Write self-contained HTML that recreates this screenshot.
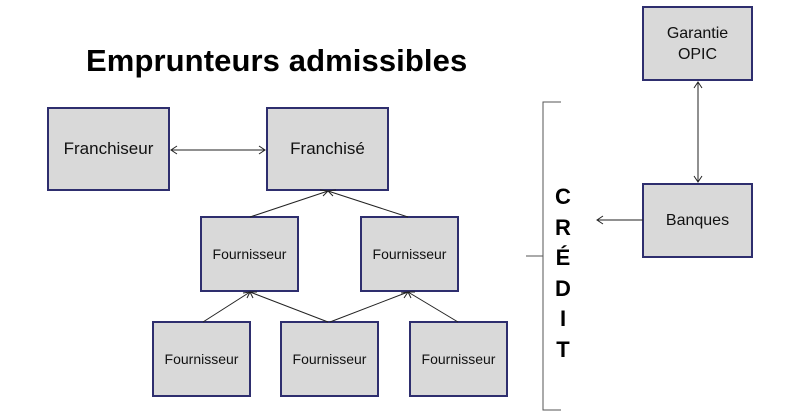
<!DOCTYPE html>
<html><head><meta charset="utf-8"><style>
body{margin:0;background:#fff;width:797px;height:417px;overflow:hidden;position:relative;font-family:"Liberation Sans",Arial,sans-serif}
.b{position:absolute;box-sizing:border-box;background:#d9d9d9;border:2px solid #2e2e6e;display:flex;align-items:center;justify-content:center;text-align:center;color:#111}
.t{position:absolute;font-weight:bold}
</style></head><body>
<div class="t" style="left:86px;top:43px;font-size:31px;letter-spacing:0.1px">Emprunteurs admissibles</div>
<div class="b" style="left:47px;top:107px;width:123px;height:84px;font-size:17px">Franchiseur</div>
<div class="b" style="left:266px;top:107px;width:123px;height:84px;font-size:17px">Franchisé</div>
<div class="b" style="left:200px;top:216px;width:99px;height:76px;font-size:14px">Fournisseur</div>
<div class="b" style="left:360px;top:216px;width:99px;height:76px;font-size:14px">Fournisseur</div>
<div class="b" style="left:152px;top:321px;width:99px;height:76px;font-size:14px">Fournisseur</div>
<div class="b" style="left:280px;top:321px;width:99px;height:76px;font-size:14px">Fournisseur</div>
<div class="b" style="left:409px;top:321px;width:99px;height:76px;font-size:14px">Fournisseur</div>
<div class="b" style="left:642px;top:6px;width:111px;height:75px;font-size:16px;line-height:21px">Garantie<br>OPIC</div>
<div class="b" style="left:642px;top:183px;width:111px;height:75px;font-size:16px">Banques</div>
<svg width="797" height="417" style="position:absolute;left:0;top:0" fill="none" stroke="#222" stroke-width="1">
<line x1="171" y1="150" x2="265" y2="150"/><path d="M177 146L171 150L177 154M259 146L265 150L259 154"/>
<line x1="250" y1="217" x2="328" y2="191"/><line x1="408" y1="217" x2="328" y2="191"/><path d="M320 190L328 191L323 196M336 190L328 191L333 196"/>
<line x1="203" y1="322" x2="250" y2="292"/><line x1="328" y1="322" x2="250" y2="292"/><path d="M243 293L250 292L247 298M257 292L250 292L253 298"/>
<line x1="330" y1="322" x2="408" y2="292"/><line x1="458" y1="322" x2="408" y2="292"/><path d="M401 293L408 292L404 298M415 292L408 292L411 298"/>
<line x1="698" y1="82" x2="698" y2="182"/><path d="M694 88L698 82L702 88M694 176L698 182L702 176"/>
<line x1="643" y1="220" x2="597" y2="220"/><path d="M603 216L597 220L603 224"/>
<path d="M561 102H543V410H561M526 256H543" stroke="#555"/>
</svg>
<div class="t" style="left:554px;top:182px;width:18px;text-align:center;font-size:22px;line-height:30.5px">C<br>R<br>É<br>D<br>I<br>T</div>
</body></html>
